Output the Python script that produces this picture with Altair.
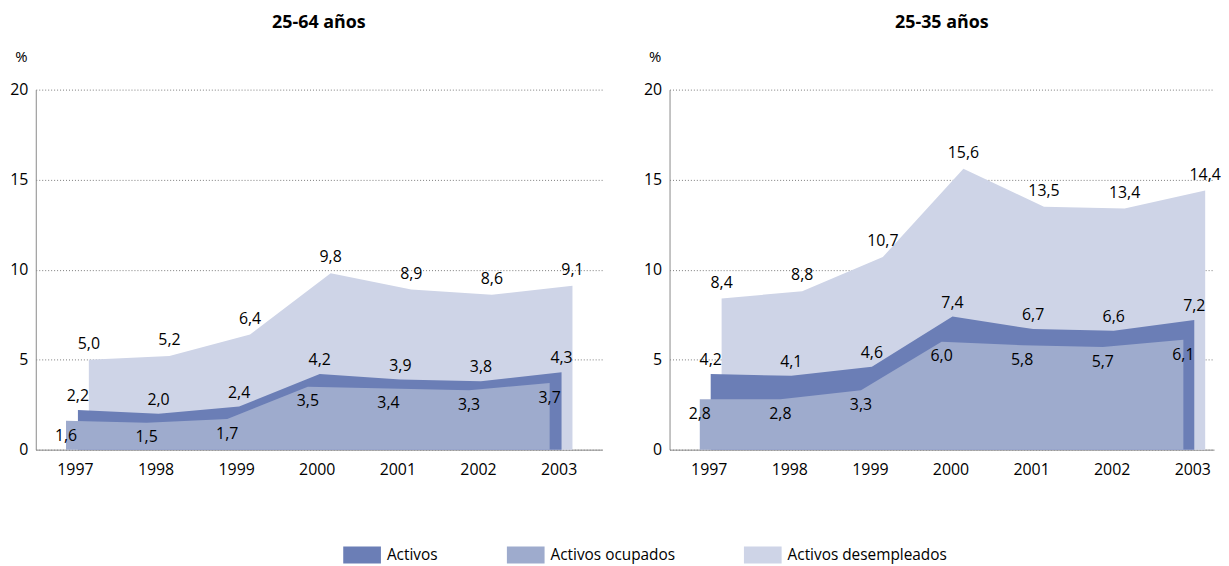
import altair as alt
import pandas as pd

years = [1997, 1998, 1999, 2000, 2001, 2002, 2003]
series = ["Activos", "Activos ocupados", "Activos desempleados"]
colors = ["#6b7eb6", "#9eabcd", "#ced4e7"]

activos_25_64 = [2.2, 2.0, 2.4, 4.2, 3.9, 3.8, 4.3]
ocupados_25_64 = [1.6, 1.5, 1.7, 3.5, 3.4, 3.3, 3.7]
desempleados_25_64 = [5.0, 5.2, 6.4, 9.8, 8.9, 8.6, 9.1]

activos_25_35 = [4.2, 4.1, 4.6, 7.4, 6.7, 6.6, 7.2]
ocupados_25_35 = [2.8, 2.8, 3.3, 6.0, 5.8, 5.7, 6.1]
desempleados_25_35 = [8.4, 8.8, 10.7, 15.6, 13.5, 13.4, 14.4]

y_ticks = [0, 5, 10, 15, 20]
FONT = "Open Sans"
AXIS_GREY = "#8a8a8a"


def make_df(act, ocu, des):
    rows = []
    for s, vals in zip(series, [act, ocu, des]):
        for yr, v in zip(years, vals):
            rows.append({"year": yr, "serie": s, "value": v,
                         "label": f"{v:.1f}".replace(".", ",")})
    return pd.DataFrame(rows)


def panel(df, title, width, x_domain, offsets):
    label_dy = {"Activos desempleados": -16, "Activos": -14, "Activos ocupados": 15}
    x = alt.X("year:Q",
              scale=alt.Scale(domain=x_domain, nice=False, zero=False),
              axis=alt.Axis(values=years, format="d", title=None, grid=False, ticks=False,
                            labelFontSize=16, labelPadding=12, labelFont=FONT,
                            labelColor="black", domainColor=AXIS_GREY, labelFlush=False))
    y = alt.Y("value:Q",
              scale=alt.Scale(domain=[0, 20], nice=False),
              axis=alt.Axis(values=y_ticks, title="%", titleAngle=0, titleX=-15, titleY=-33,
                            titleAlign="center", titleBaseline="middle", titleFontWeight="normal",
                            titleFontSize=15, titleFont=FONT, titleColor="black",
                            grid=True, gridDash=[1, 2], gridColor="#7a7a7a", ticks=False,
                            labelPadding=8, labelFontSize=16, labelFont=FONT, labelColor="black",
                            domainColor=AXIS_GREY))
    color = alt.Color("serie:N",
                      scale=alt.Scale(domain=series, range=colors),
                      legend=alt.Legend(orient="none", legendX=310, legendY=450,
                                        direction="horizontal", columns=3, title=None,
                                        symbolType="M-1,-0.45H1V0.45H-1Z", symbolSize=1444,
                                        symbolStrokeWidth=0, symbolOpacity=1,
                                        labelFontSize=15.5, labelFont=FONT, labelColor="black",
                                        labelLimit=300, labelOffset=6, columnPadding=69))
    layers = []
    for s in ["Activos desempleados", "Activos", "Activos ocupados"]:
        layers.append(
            alt.Chart(df).transform_filter(alt.datum.serie == s)
            .mark_area(xOffset=offsets[s], opacity=1)
            .encode(x=x, y=y, color=color)
        )
    for s in ["Activos desempleados", "Activos", "Activos ocupados"]:
        layers.append(
            alt.Chart(df).transform_filter(alt.datum.serie == s)
            .mark_text(xOffset=offsets[s], dy=label_dy[s], fontSize=16, font=FONT,
                       color="black", baseline="middle")
            .encode(x=x, y=y, text="label:N")
        )
    return alt.layer(*layers).properties(
        width=width, height=363,
        title=alt.TitleParams(text=title, fontSize=18, fontWeight="bold", font=FONT,
                              anchor="middle", offset=18, color="black"))


left = panel(make_df(activos_25_64, ocupados_25_64, desempleados_25_64), "25-64 años",
             571, [1996.514, 2003.54],
             {"Activos desempleados": 14, "Activos": 3, "Activos ocupados": -9})
right = panel(make_df(activos_25_35, ocupados_25_35, desempleados_25_35), "25-35 años",
              549, [1996.514, 2003.27],
              {"Activos desempleados": 13, "Activos": 2, "Activos ocupados": -9})

chart = alt.hconcat(left, right, spacing=41).properties(
    padding={"left": 1, "top": 4, "right": 0, "bottom": 0},
    background="white",
).configure_view(stroke=None)

chart.save("out.html", embed_options={"renderer": "svg", "actions": False})
